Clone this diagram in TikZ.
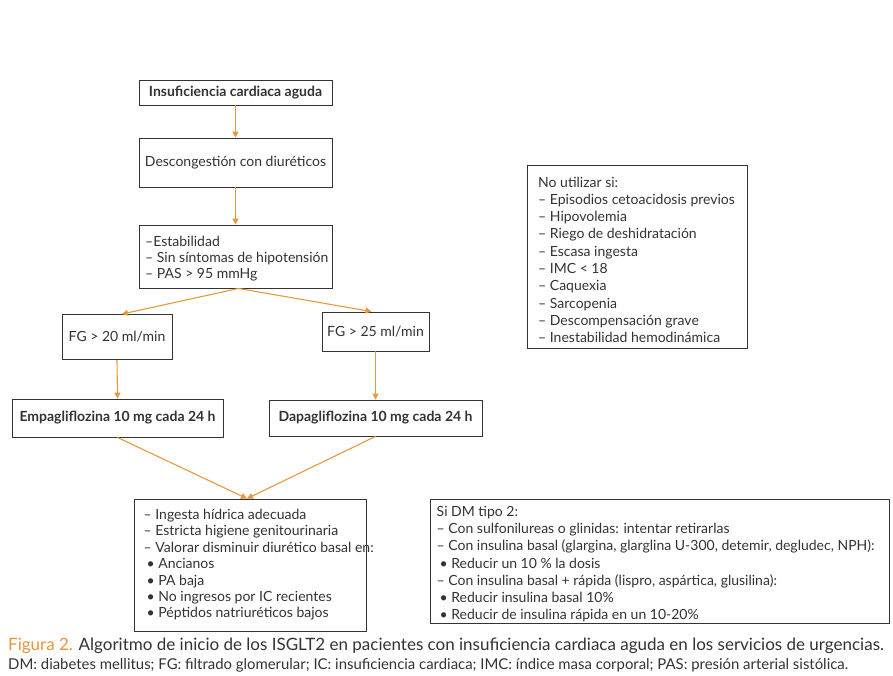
\documentclass[tikz,border=0pt]{standalone}
\usepackage{fontspec}
\setmainfont{Lato}
\usetikzlibrary{arrows.meta,calc}
\definecolor{arr}{HTML}{E59A3C}
\definecolor{txt}{HTML}{333333}
\definecolor{capor}{HTML}{E8963A}
\tikzset{
  box/.style={draw=txt, line width=0.9pt, rectangle, inner sep=0pt, text=txt, font=\fontsize{14}{16}\selectfont, align=center},
  bbox/.style={box, font=\fontsize{14}{16}\selectfont\bfseries},
  ltext/.style={anchor=north west, inner sep=0pt, text=txt, align=left, font=\fontsize{14}{#1}\selectfont},
  flow/.style={draw=arr, line width=1.1pt, -{Triangle[length=6pt,width=6pt]}},
}
\begin{document}
\begin{tikzpicture}[x=1pt,y=-1pt]
\useasboundingbox[fill=white] (0,0) rectangle (893,675);
\node[bbox, minimum width=193pt, minimum height=25pt] (b1) at (235.5,92.5) {Insuficiencia cardiaca aguda};
\node[box, minimum width=193pt, minimum height=49pt] (b2) at (235.5,162.5) {Descongestión con diuréticos};
\node[box, minimum width=193pt, minimum height=63pt] (b3) at (235.5,256.5) {};
\node[ltext=16.2] (b3t) at (145,235.5) {–Estabilidad\\– Sin síntomas de hipotensión\\– PAS > 95 mmHg};
\node[box, minimum width=110pt, minimum height=45pt] (f20) at (117,337) {FG > 20 ml/min};
\node[box, minimum width=107pt, minimum height=39pt] (f25) at (375.5,331.5) {FG > 25 ml/min};
\node[bbox, minimum width=211pt, minimum height=38pt] (emp) at (117.5,418) {Empagliflozina 10 mg cada 24 h};
\node[bbox, minimum width=213pt, minimum height=36pt] (dap) at (375.5,418) {Dapagliflozina 10 mg cada 24 h};
\node[box, minimum width=232pt, minimum height=132pt] (fin) at (250,565) {};
\node[ltext=16.4] (fint) at (143.5,509) {– Ingesta hídrica adecuada\\– Estricta higiene genitourinaria\\– Valorar disminuir diurético basal en:\\\hspace*{3pt}• Ancianos\\\hspace*{3pt}• PA baja\\\hspace*{3pt}• No ingresos por IC recientes\\\hspace*{3pt}• Péptidos natriuréticos bajos};
\node[box, minimum width=220pt, minimum height=183pt] (nou) at (637,256.5) {};
\node[ltext=17.3] (nout) at (538,176.5) {No utilizar si:\\– Episodios cetoacidosis previos\\– Hipovolemia\\– Riego de deshidratación\\– Escasa ingesta\\– IMC < 18\\– Caquexia\\– Sarcopenia\\– Descompensación grave\\– Inestabilidad hemodinámica};
\node[box, minimum width=459pt, minimum height=124pt] (dm) at (659.5,561) {};
\node[ltext=17.2] (dmt) at (436.5,506) {Si DM tipo 2:\\– Con sulfonilureas o glinidas: intentar retirarlas\\– Con insulina basal (glargina, glarglina U-300, detemir, degludec, NPH):\\\hspace*{3pt}• Reducir un 10 \% la dosis\\– Con insulina basal + rápida (lispro, aspártica, glusilina):\\\hspace*{3pt}• Reducir insulina basal 10\%\\\hspace*{3pt}• Reducir de insulina rápida en un 10-20\%};
\coordinate (split) at ($(b3.south)+(3,0)$);
\draw[flow] (b1.south) -- (b2.north);
\draw[flow] (b2.south) -- (b3.north);
\draw[flow] (split) -- ($(f20.north)+(5,0)$);
\draw[flow] (split) -- ($(f25.north)+(-4,0)$);
\draw[flow] (f20.south) -- (emp.north);
\draw[flow] (f25.south) -- (dap.north);
\draw[flow] (emp.south) -- ($(fin.north)+(-3,0)$);
\draw[flow] (dap.south) -- ($(fin.north)+(-3,0)$);
\node[anchor=west, inner sep=0pt, font=\fontsize{17}{19}\selectfont, text=txt] (cap1) at (8,645.5) {\textcolor{capor}{Figura 2.} Algoritmo de inicio de los ISGLT2 en pacientes con insuficiencia cardiaca aguda en los servicios de urgencias.};
\node[anchor=west, inner sep=0pt, font=\fontsize{14.9}{17}\selectfont, text=txt] (cap2) at (8,665.5) {DM: diabetes mellitus; FG: filtrado glomerular; IC: insuficiencia cardiaca; IMC: índice masa corporal; PAS: presión arterial sistólica.};
\end{tikzpicture}
\end{document}
